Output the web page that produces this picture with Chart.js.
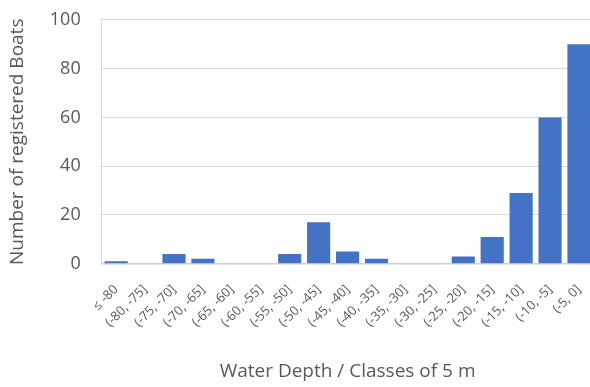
<!DOCTYPE html>
<html>
<head>
<meta charset="utf-8">
<script src="https://cdn.jsdelivr.net/npm/chart.js@4"></script>
<style>
  html, body { margin: 0; padding: 0; background: #fff; overflow: hidden; }
  #wrap { width: 608px; height: 399px; margin-top: -12px; }
</style>
</head>
<body>
<div id="wrap"><canvas id="depthChart"></canvas></div>
<script>
const depthClasses = ['≤ -80', '(-80, -75]', '(-75, -70]', '(-70, -65]', '(-65, -60]', '(-60, -55]',
  '(-55, -50]', '(-50, -45]', '(-45, -40]', '(-40, -35]', '(-35, -30]', '(-30, -25]',
  '(-25, -20]', '(-20, -15]', '(-15, -10]', '(-10, -5]', '(-5, 0]'];
const boatCounts = [1, 0, 4, 2, 0, 0, 4, 17, 5, 2, 0, 0, 3, 11, 29, 60, 90];
const yTicks = [0, 20, 40, 60, 80, 100];

const font = "'Open Sans', 'Liberation Sans', sans-serif";

new Chart(document.getElementById('depthChart'), {
  type: 'bar',
  data: {
    labels: depthClasses,
    datasets: [{
      data: boatCounts,
      backgroundColor: '#4472C4',
      borderWidth: 0,
      barPercentage: 0.8,
      categoryPercentage: 1
    }]
  },
  options: {
    responsive: true,
    maintainAspectRatio: false,
    animation: false,
    layout: { padding: { left: 6, right: 0, top: 0, bottom: 4 } },
    plugins: {
      legend: { display: false },
      tooltip: { enabled: false }
    },
    scales: {
      x: {
        grid: { display: false, drawTicks: false },
        border: { color: '#d0d0d0', width: 1.5 },
        ticks: {
          color: '#595959',
          font: { family: font, size: 13 },
          minRotation: 45,
          maxRotation: 45,
          padding: 18,
          autoSkip: false
        },
        title: {
          display: true,
          text: 'Water Depth / Classes of 5 m',
          color: '#595959',
          font: { family: font, size: 19 },
          padding: { top: 12, bottom: 0 }
        }
      },
      y: {
        min: 0,
        max: 100,
        afterBuildTicks: axis => { axis.ticks = yTicks.map(v => ({ value: v })); },
        grid: { color: '#d9d9d9', lineWidth: 1, drawTicks: false },
        border: { display: true, color: '#d9d9d9' },
        ticks: {
          color: '#595959',
          font: { family: font, size: 18 },
          padding: 21
        },
        title: {
          display: true,
          text: 'Number of registered Boats',
          color: '#595959',
          font: { family: font, size: 19 },
          padding: { top: 0, bottom: 0 }
        }
      }
    }
  }
});
</script>
</body>
</html>
